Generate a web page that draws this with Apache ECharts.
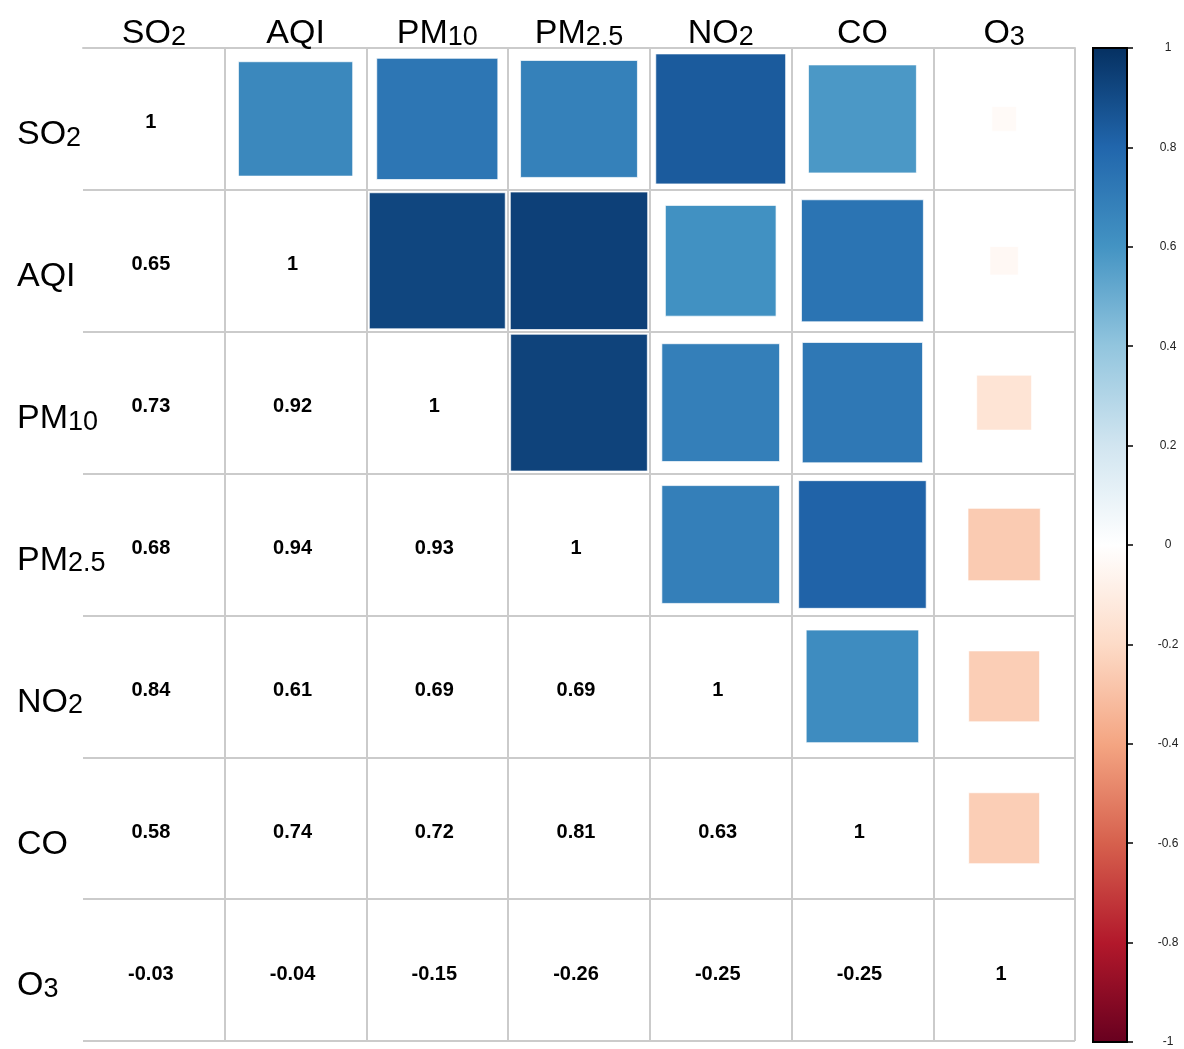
<!DOCTYPE html>
<html>
<head>
<meta charset="utf-8">
<script src="https://cdn.jsdelivr.net/npm/echarts@6/dist/echarts.min.js"></script>
<style>
    html, body { margin: 0; padding: 0; background: #fff; }
    #main { width: 1184px; height: 1049px; }
</style>
</head>
<body>
<div id="main"></div>
<script>
    // 变量名
    var vars = ['SO2', 'AQI', 'PM10', 'PM2.5', 'NO2', 'CO', 'O3'];
    var labelMain = ['SO', 'AQI', 'PM', 'PM', 'NO', 'CO', 'O'];
    var labelSub = ['2', '', '10', '2.5', '2', '', '3'];

    // 相关系数矩阵
    var corrSO2 = [1, 0.65, 0.73, 0.68, 0.84, 0.58, -0.03];
    var corrAQI = [0.65, 1, 0.92, 0.94, 0.61, 0.74, -0.04];
    var corrPM10 = [0.73, 0.92, 1, 0.93, 0.69, 0.72, -0.15];
    var corrPM25 = [0.68, 0.94, 0.93, 1, 0.69, 0.81, -0.26];
    var corrNO2 = [0.84, 0.61, 0.69, 0.69, 1, 0.63, -0.25];
    var corrCO = [0.58, 0.74, 0.72, 0.81, 0.63, 1, -0.25];
    var corrO3 = [-0.03, -0.04, -0.15, -0.26, -0.25, -0.25, 1];
    var corr = [corrSO2, corrAQI, corrPM10, corrPM25, corrNO2, corrCO, corrO3];

    // 色带 (从 -1 到 1)
    var rdbu = ['#67001F', '#B2182B', '#D6604D', '#F4A582', '#FDDBC7', '#FFFFFF',
        '#D1E5F0', '#92C5DE', '#4393C3', '#2166AC', '#053061'];

    var squareData = [], textData = [];
    for (var i = 0; i < vars.length; i++) {
        for (var j = 0; j < vars.length; j++) {
            if (j > i) {
                squareData.push([j, i, corr[i][j]]);
            } else {
                textData.push([j, i, corr[i][j]]);
            }
        }
    }

    function fmt(v) {
        if (v === 1 || v === -1) return String(v);
        return v.toFixed(2);
    }

    function labelFormatter(value) {
        var idx = vars.indexOf(value);
        var sub = labelSub[idx];
        return labelMain[idx] + (sub ? '{s|' + sub + '}' : '');
    }

    var font = '"Liberation Sans", Arial, sans-serif';
    var lineColor = '#cbcbcb';

    var stops = [];
    for (var k = 0; k < rdbu.length; k++) {
        stops.push({ offset: k / (rdbu.length - 1), color: rdbu[rdbu.length - 1 - k] });
    }

    var chart = echarts.init(document.getElementById('main'));
    var option = {
        backgroundColor: '#fff',
        animation: false,
        grid: [
            { left: 83, top: 48, width: 992, height: 993 },
            { left: 1093, top: 48, width: 34, height: 994 }
        ],
        visualMap: {
            show: false,
            type: 'continuous',
            min: -1,
            max: 1,
            dimension: 2,
            seriesIndex: 0,
            inRange: { color: rdbu }
        },
        xAxis: [{
            gridIndex: 0,
            type: 'category',
            position: 'top',
            data: vars,
            boundaryGap: true,
            axisLine: { show: true, lineStyle: { color: lineColor, width: 2 } },
            axisTick: { show: false },
            axisLabel: {
                interval: 0,
                margin: -3,
                color: '#000',
                fontFamily: font,
                fontSize: 34,
                formatter: labelFormatter,
                rich: { s: { fontSize: 27, fontFamily: font, color: '#000', verticalAlign: 'bottom' } }
            },
            splitLine: { show: true, interval: 0, showMinLine: false, lineStyle: { color: lineColor, width: 2 } }
        }, {
            gridIndex: 1,
            type: 'value',
            min: 0,
            max: 1,
            show: false
        }],
        yAxis: [{
            gridIndex: 0,
            type: 'category',
            inverse: true,
            data: vars,
            boundaryGap: true,
            axisLine: { show: false },
            axisTick: { show: false },
            axisLabel: {
                interval: 0,
                margin: 66,
                align: 'left',
                padding: [32, 0, 0, 0],
                color: '#000',
                fontFamily: font,
                fontSize: 34,
                formatter: labelFormatter,
                rich: { s: { fontSize: 27, fontFamily: font, color: '#000', verticalAlign: 'bottom' } }
            },
            splitLine: { show: true, interval: 0, lineStyle: { color: lineColor, width: 2 } }
        }, {
            gridIndex: 1,
            type: 'value',
            position: 'right',
            min: -1,
            max: 1,
            interval: 0.2,
            z: 10,
            axisLine: { show: true, onZero: false, lineStyle: { color: '#000', width: 1.5 } },
            axisTick: { show: true, inside: false, length: 6, lineStyle: { color: '#000', width: 1.5 } },
            axisLabel: {
                margin: 41,
                align: 'center',
                color: '#222',
                fontFamily: font,
                fontSize: 12
            },
            splitLine: { show: false }
        }],
        series: [{
            // 上三角方块
            type: 'custom',
            xAxisIndex: 0,
            yAxisIndex: 0,
            data: squareData,
            renderItem: function (params, api) {
                var c = api.coord([api.value(0), api.value(1)]);
                var size = api.size([1, 1]);
                var s = Math.sqrt(Math.abs(api.value(2)));
                var w = size[0] * s, h = size[1] * s;
                return {
                    type: 'rect',
                    shape: { x: c[0] - w / 2, y: c[1] - h / 2, width: w, height: h },
                    style: { fill: api.visual('color'), stroke: 'rgba(255,255,255,0.7)', lineWidth: 1 }
                };
            }
        }, {
            // 下三角数字
            type: 'custom',
            xAxisIndex: 0,
            yAxisIndex: 0,
            data: textData,
            renderItem: function (params, api) {
                var c = api.coord([api.value(0), api.value(1)]);
                return {
                    type: 'text',
                    style: {
                        x: c[0] - 3,
                        y: c[1] + 4,
                        text: fmt(api.value(2)),
                        font: 'bold 20px ' + font,
                        fill: '#000',
                        align: 'center',
                        verticalAlign: 'middle'
                    }
                };
            }
        }, {
            // 色条
            type: 'custom',
            xAxisIndex: 1,
            yAxisIndex: 1,
            z: 1,
            data: [[0, 1, -1]],
            renderItem: function (params, api) {
                var p0 = api.coord([api.value(0), api.value(1)]);
                var p1 = api.coord([api.value(0) + 1, api.value(2)]);
                return {
                    type: 'rect',
                    shape: { x: p0[0], y: p0[1], width: p1[0] - p0[0], height: p1[1] - p0[1] },
                    style: {
                        fill: { type: 'linear', x: 0, y: 0, x2: 0, y2: 1, colorStops: stops },
                        stroke: '#000',
                        lineWidth: 2
                    }
                };
            }
        }]
    };
    chart.setOption(option);
</script>
</body>
</html>
